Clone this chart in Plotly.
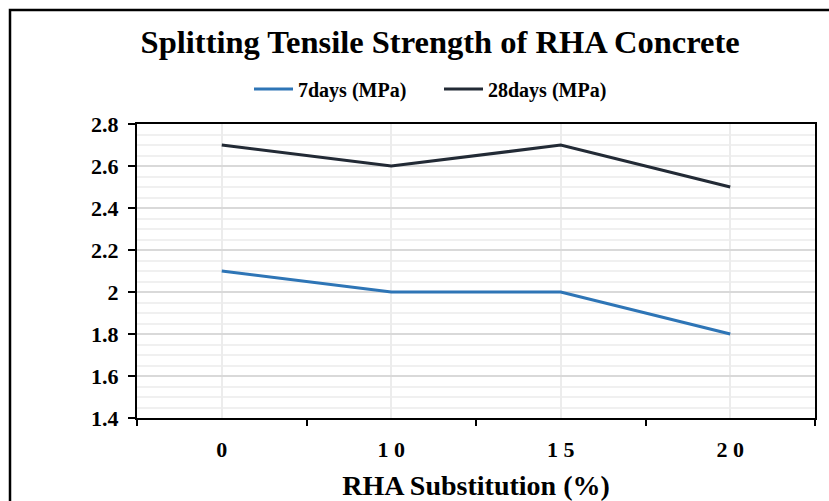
import plotly.graph_objects as go

categories = ["0", "10", "15", "20"]
tick_text = ["0", "1 0", "1 5", "2 0"]
days7 = [2.1, 2.0, 2.0, 1.8]
days28 = [2.7, 2.6, 2.7, 2.5]

FONT = "'Liberation Serif', 'Times New Roman', Times, serif"
W, H = 829, 501
L, R, T, B = 137, 14, 124, 83

fig = go.Figure()
fig.add_trace(go.Scatter(x=categories, y=days7, mode="lines", name="7days (MPa)",
                         line=dict(color="#2E75B6", width=3.2)))
fig.add_trace(go.Scatter(x=categories, y=days28, mode="lines", name="28days (MPa)",
                         line=dict(color="#222A35", width=3.2)))
# invisible trace to activate the boundary-tick axis
fig.add_trace(go.Scatter(x=[-0.5, 3.5], y=[None, None], xaxis="x2", showlegend=False,
                         hoverinfo="skip", mode="lines"))

pw = W - L - R
ph = H - T - B
bx = (10 - L) / pw
by = 1 + (T - 10) / ph

fig.update_layout(
    width=W, height=H,
    margin=dict(l=L, r=R, t=T, b=B, autoexpand=False),
    paper_bgcolor="white", plot_bgcolor="white",
    font=dict(family=FONT, color="black"),
    title=dict(text="Splitting Tensile Strength of RHA Concrete", x=0.531, xanchor="center",
               y=1 - 42 / H, yanchor="middle",
               font=dict(family=FONT, size=32.5, weight="bold", color="black")),
    legend=dict(orientation="h", x=(249 - L) / pw, xanchor="left", y=1 - 89 / H, yref="container",
                yanchor="middle", font=dict(family=FONT, size=20, weight="bold", color="black"),
                entrywidth=136, entrywidthmode="pixels", tracegroupgap=0, itemwidth=39),
    xaxis=dict(type="category", range=[-0.5, 3.5], tickmode="array", tickvals=categories,
               ticktext=tick_text, showgrid=True, gridcolor="#ececec", gridwidth=1.5,
               ticks="", showline=True, linecolor="black", linewidth=2, mirror=True,
               tickfont=dict(family=FONT, size=22, weight="bold", color="black"),
               ticklabelstandoff=11,
               title=dict(text="RHA Substitution (%)", standoff=17,
                          font=dict(family=FONT, size=28, weight="bold", color="black")),
               fixedrange=True),
    xaxis2=dict(overlaying="x", side="bottom", anchor="y", range=[-0.5, 3.5],
                tickmode="array", tickvals=[-0.5, 0.5, 1.5, 2.5, 3.5],
                ticks="outside", ticklen=7, tickwidth=2, tickcolor="black",
                showticklabels=False, showgrid=False, showline=False, zeroline=False),
    yaxis=dict(range=[1.4, 2.8], dtick=0.2, tick0=1.4, ticks="outside", ticklen=7,
               tickwidth=2, tickcolor="black", showline=True, linecolor="black",
               linewidth=2, mirror=True, showgrid=True, gridcolor="#d9d9d9", gridwidth=1.5,
               zeroline=False, ticklabelstandoff=5,
               minor=dict(dtick=0.05, showgrid=True, gridcolor="#f0f0f0", gridwidth=1.5),
               tickfont=dict(family=FONT, size=22, weight="bold", color="black")),
    showlegend=True,
)

fig.add_shape(type="rect", xref="paper", yref="paper", x0=bx, x1=1.2, y0=-0.6, y1=by,
              line=dict(color="black", width=2.5), fillcolor="rgba(0,0,0,0)", layer="above")

fig.write_html("out.html")
